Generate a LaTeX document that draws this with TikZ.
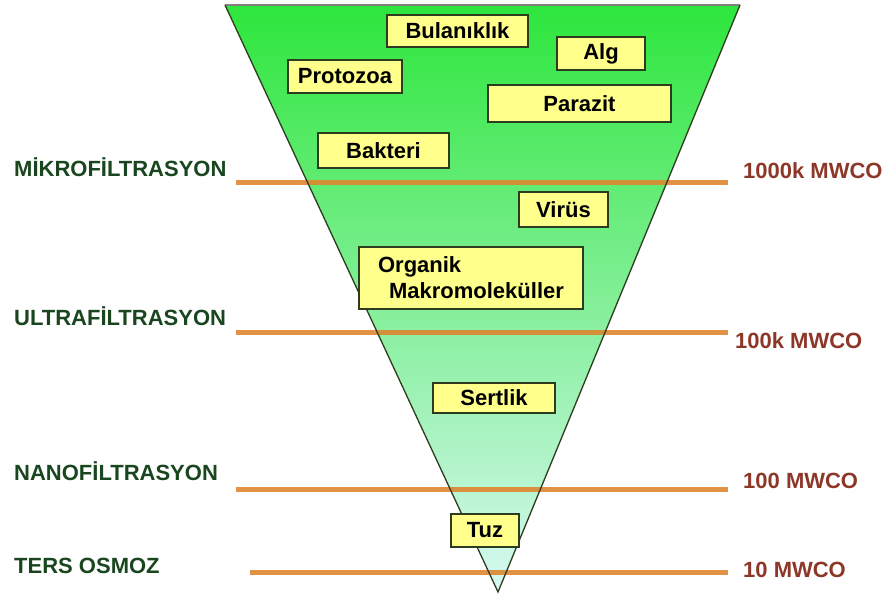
\documentclass[tikz,border=0pt]{standalone}
\usepackage{fontspec}
\setmainfont{Liberation Sans}
\usetikzlibrary{positioning}

\definecolor{yesil}{RGB}{45,230,60}
\definecolor{nane}{RGB}{135,238,175}
\definecolor{buz}{RGB}{215,248,242}
\definecolor{turuncu}{RGB}{222,134,48}
\definecolor{koyuyesil}{RGB}{25,70,30}
\definecolor{kiremit}{RGB}{140,55,40}
\definecolor{sari}{RGB}{255,255,140}
\definecolor{kenar}{RGB}{45,60,30}
\newcommand{\yazi}{\fontsize{22}{26}\selectfont\bfseries}

\tikzset{
  kutu/.style={draw=kenar,line width=1.8pt,fill=sari,inner sep=0pt,font=\yazi},
  solyazi/.style={anchor=base west,text=koyuyesil,inner sep=0pt,font=\yazi},
  sagyazi/.style={anchor=base west,text=kiremit,inner sep=0pt,font=\yazi},
  cizgi/.style={draw=turuncu,line width=5pt,opacity=0.9}
}

\begin{document}
\begin{tikzpicture}[x=1pt,y=-1pt]
    \useasboundingbox (0,0) rectangle (885,594);

    % huni
    \shade[top color=yesil,middle color=nane,bottom color=buz]
        (225,5) -- (740,5) -- (498,592) -- cycle;

    % seviyeler
    \foreach \ad/\cy/\cx/\sy/\solad/\rx/\ry/\sagad in
       {mf/182/236/176/MİKROFİLTRASYON/743/178/1000k MWCO,
        uf/332/236/325/ULTRAFİLTRASYON/735/348/100k MWCO,
        nf/489/236/480/NANOFİLTRASYON/743/488/100 MWCO,
        ro/572/250/573/TERS OSMOZ/743/577/10 MWCO}
             {
               \draw[cizgi] (\cx,\cy) -- (728,\cy);
               \node[solyazi] (sol-\ad) at (14,\sy) {\solad};
               \node[sagyazi] (sag-\ad) at (\rx,\ry) {\sagad};
             }

    \draw[gray,line width=2pt] (225,5) -- (740,5);
    \draw[kenar,line width=1.3pt] (225,5) -- (498,592) -- (740,5);

    % kirleticiler
    \node[kutu,minimum width=141,minimum height=32] (bulaniklik) at (457.5,31) {Bulanıklık};
    \node[kutu,minimum width=88,minimum height=33] (alg) at (601,53.5) {Alg};
    \node[kutu,minimum width=114,minimum height=33] (protozoa) at (345,76.5) {Protozoa};
    \node[kutu,minimum width=183,minimum height=37] (parazit) at (579.5,103.5) {Parazit};
    \node[kutu,minimum width=131,minimum height=35] (bakteri) at (383.5,150.5) {Bakteri};
    \node[kutu,minimum width=89,minimum height=35] (virus) at (563.5,209.5) {Virüs};
    \node[kutu,minimum width=224,minimum height=62,align=left] (organik) at (471,278)
        {Organik\\\hspace*{11pt}Makromoleküller};
    \node[kutu,minimum width=122,minimum height=30] (sertlik) at (494,398) {Sertlik};
    \node[kutu,minimum width=68,minimum height=33] (tuz) at (485,530.5) {Tuz};
\end{tikzpicture}
\end{document}
